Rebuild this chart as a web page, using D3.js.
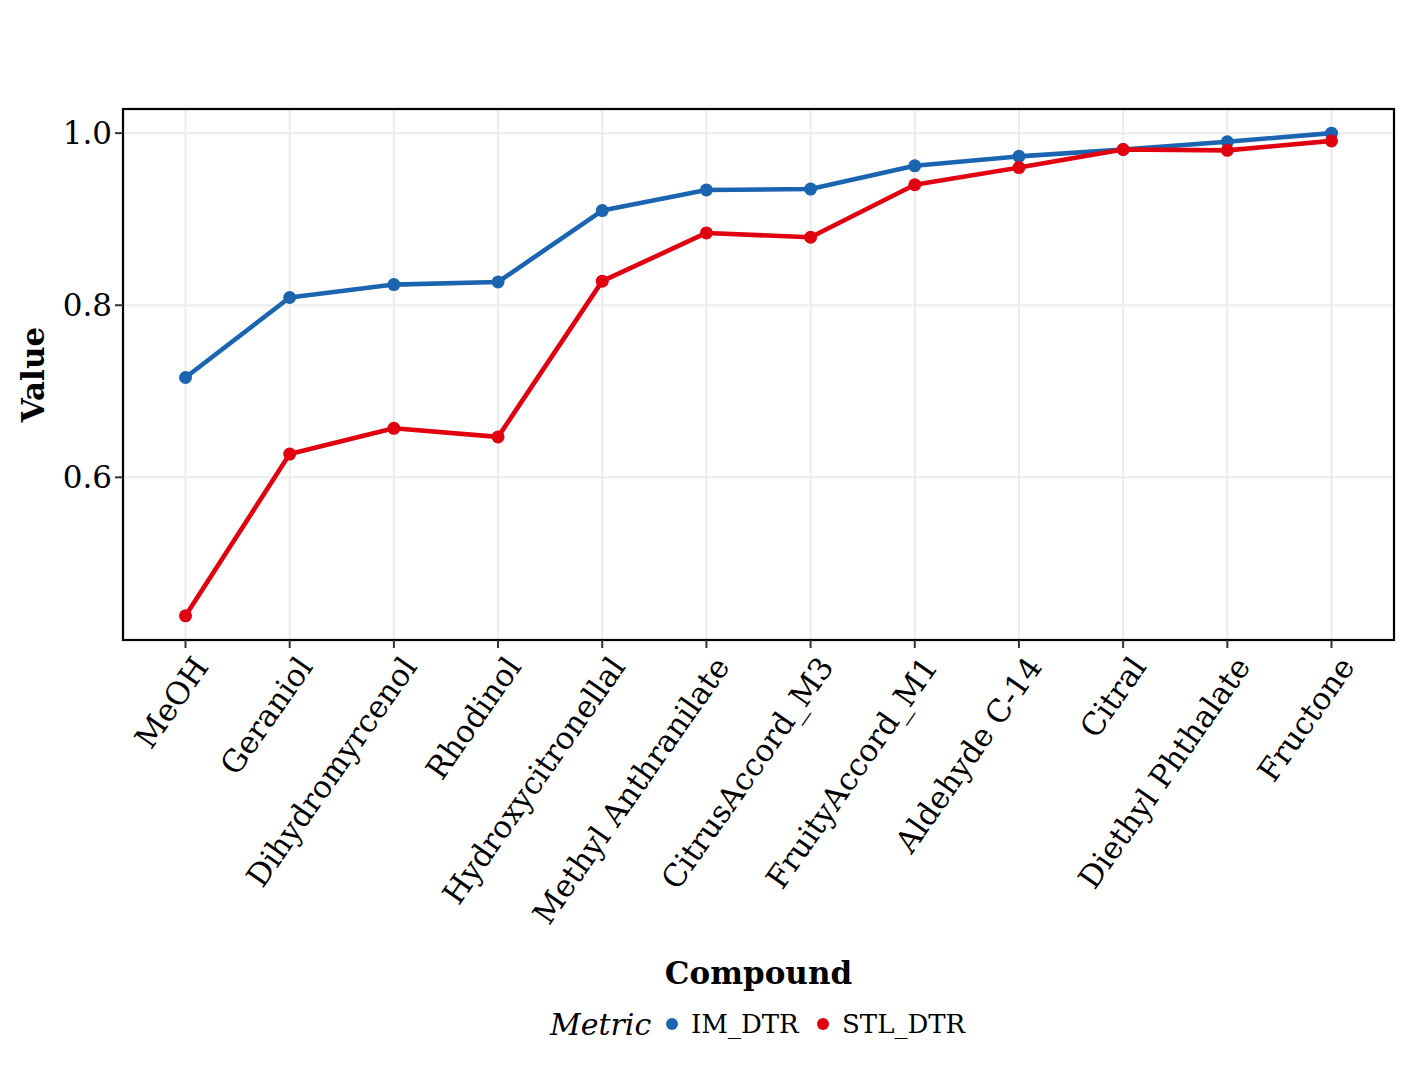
<!DOCTYPE html>
<html>
<head>
<meta charset="utf-8">
<script src="https://cdn.jsdelivr.net/npm/d3@7"></script>
<style>
  body { margin: 0; background: #fff; }
  text { font-family: "DejaVu Serif", "Liberation Serif", serif; fill: #000; }
</style>
</head>
<body>
<svg id="chart" width="1420" height="1065"></svg>
<script>
// data
const compounds = ["MeOH", "Geraniol", "Dihydromyrcenol", "Rhodinol", "Hydroxycitronellal",
  "Methyl Anthranilate", "CitrusAccord_M3", "FruityAccord_M1", "Aldehyde C-14", "Citral",
  "Diethyl Phthalate", "Fructone"];
const imDTR  = [0.716, 0.809, 0.824, 0.827, 0.910, 0.934, 0.935, 0.962, 0.973, 0.981, 0.990, 1.000];
const stlDTR = [0.439, 0.627, 0.657, 0.647, 0.828, 0.884, 0.879, 0.940, 0.960, 0.981, 0.980, 0.991];
const metrics = ["IM_DTR", "STL_DTR"];
const colors = ["#1a64b0", "#e0000f"];
const yTicks = [0.6, 0.8, 1.0];

const svg = d3.select("#chart");
const m = { left: 123, top: 109, right: 1394, bottom: 640 };

const x = d3.scalePoint()
  .domain(compounds)
  .range([m.left, m.right])
  .padding(0.6);

// ggplot-style 5% expansion
const all = imDTR.concat(stlDTR);
const lo = d3.min(all), hi = d3.max(all), pad = (hi - lo) * 0.05;
const y = d3.scaleLinear()
  .domain([lo - pad, hi + pad])
  .range([m.bottom, m.top]);

// grid
const grid = svg.append("g");
grid.selectAll(".gy")
  .data(yTicks)
  .enter().append("line")
  .attr("x1", m.left).attr("x2", m.right)
  .attr("y1", d => y(d)).attr("y2", d => y(d))
  .style("stroke", "#ebebeb").style("stroke-width", 2);
grid.selectAll(".gx")
  .data(compounds)
  .enter().append("line")
  .attr("x1", d => x(d)).attr("x2", d => x(d))
  .attr("y1", m.top).attr("y2", m.bottom)
  .style("stroke", "#ebebeb").style("stroke-width", 2);

// series
const series = metrics.map((k, i) => ({
  key: k,
  color: colors[i],
  values: (i === 0 ? imDTR : stlDTR).map((v, j) => ({ c: compounds[j], v: v }))
}));

const line = d3.line().x(d => x(d.c)).y(d => y(d.v));

const sg = svg.selectAll(".series")
  .data(series)
  .enter().append("g");
sg.append("path")
  .attr("d", d => line(d.values))
  .attr("fill", "none")
  .style("stroke", d => d.color)
  .style("stroke-width", 4.6)
  .style("stroke-linejoin", "round");
sg.selectAll("circle")
  .data(d => d.values.map(p => ({ ...p, color: d.color })))
  .enter().append("circle")
  .attr("cx", d => x(d.c))
  .attr("cy", d => y(d.v))
  .attr("r", 6.5)
  .style("fill", d => d.color);

// panel border
svg.append("rect")
  .attr("x", m.left).attr("y", m.top)
  .attr("width", m.right - m.left).attr("height", m.bottom - m.top)
  .attr("fill", "none")
  .style("stroke", "#000").style("stroke-width", 2.2);

// y axis
const yAxis = svg.append("g");
yAxis.selectAll("line")
  .data(yTicks)
  .enter().append("line")
  .attr("x1", m.left - 8).attr("x2", m.left)
  .attr("y1", d => y(d)).attr("y2", d => y(d))
  .style("stroke", "#333").style("stroke-width", 2);
yAxis.selectAll("text")
  .data(yTicks)
  .enter().append("text")
  .attr("x", m.left - 11)
  .attr("y", d => y(d))
  .attr("dy", "0.36em")
  .attr("text-anchor", "end")
  .style("font-size", "31px")
  .text(d3.format(".1f"));

// x axis
const xAxis = svg.append("g");
xAxis.selectAll("line")
  .data(compounds)
  .enter().append("line")
  .attr("x1", d => x(d)).attr("x2", d => x(d))
  .attr("y1", m.bottom).attr("y2", m.bottom + 8)
  .style("stroke", "#333").style("stroke-width", 2);
xAxis.selectAll("text")
  .data(compounds)
  .enter().append("text")
  .attr("transform", d => `translate(${x(d) + 6},${m.bottom + 14}) rotate(-55)`)
  .attr("text-anchor", "end")
  .attr("dy", "0.72em")
  .style("font-size", "31px")
  .text(d => d);

// axis titles
svg.append("text")
  .attr("x", (m.left + m.right) / 2)
  .attr("y", 984)
  .attr("text-anchor", "middle")
  .style("font-size", "31px")
  .style("font-weight", "bold")
  .text("Compound");
svg.append("text")
  .attr("transform", `translate(44,${(m.top + m.bottom) / 2}) rotate(-90)`)
  .attr("text-anchor", "middle")
  .style("font-size", "31px")
  .style("font-weight", "bold")
  .text("Value");

// legend
const legend = svg.append("g").attr("transform", "translate(0,1024)");
legend.append("text")
  .attr("x", 550).attr("y", 0).attr("dy", "0.36em")
  .style("font-size", "30px")
  .style("font-style", "italic")
  .text("Metric");
const lx = [672, 823];
const items = legend.selectAll(".item")
  .data(series)
  .enter().append("g")
  .attr("transform", (d, i) => `translate(${lx[i]},0)`);
items.append("circle").attr("r", 6).style("fill", d => d.color);
items.append("text")
  .attr("x", 19).attr("dy", "0.36em")
  .style("font-size", "26px")
  .text(d => d.key);
</script>
</body>
</html>
